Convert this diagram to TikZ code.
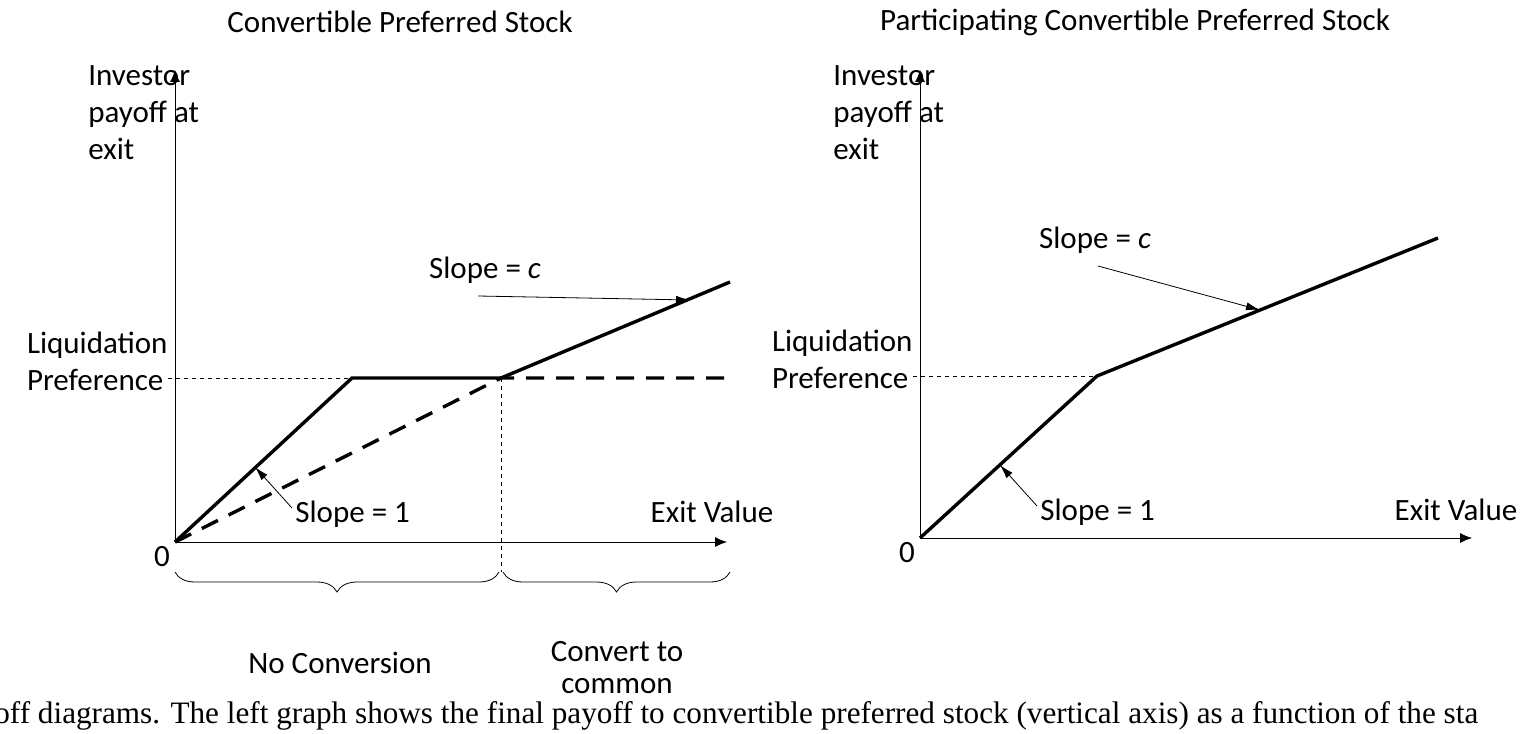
\documentclass[tikz,border=0pt]{standalone}
\usepackage{fontspec}
\setmainfont{Carlito}
\newfontfamily\capfont{Liberation Serif}
\usetikzlibrary{decorations.pathreplacing,arrows.meta}
\begin{document}
\begin{tikzpicture}[x=0.5pt,y=-0.5pt,
  lbl/.style={font=\fontsize{15.5}{18.5}\selectfont, inner sep=0pt},
  axis/.style={thin,-{Latex[length=6pt,width=5pt]}},
  curve/.style={line width=1.7pt},
  dcurve/.style={line width=1.7pt,dash pattern=on 9pt off 6pt},
  guide/.style={very thin,dash pattern=on 2pt off 2pt},
  pointer/.style={thin,-{Latex[length=7pt,width=4pt]}},
  brc/.style={thin,decorate,decoration={brace,mirror,amplitude=10pt}}]
\useasboundingbox (0,0) rectangle (1534,733);
% ---------- left graph ----------
\node[lbl] (t1) at (400,22) {Convertible Preferred Stock};
\coordinate (o1) at (175,542);
\coordinate (ytop1) at (175,70);
\coordinate (xend1) at (727,542);
\draw[axis] (o1) -- (ytop1);
\draw[axis] (o1) -- (xend1);
\node[lbl,align=left,anchor=north west] (yl1) at (88,65) {Investor\\payoff at\\exit};
\node[lbl,align=left,anchor=east] (lp1) at (168,361) {Liquidation\\Preference};
\node[lbl] (z1) at (162,557) {0};
\node[lbl] (ev1) at (712,512) {Exit Value};
\coordinate (k1) at (352,378);
\coordinate (c1) at (501,378);
\coordinate (e1) at (730,282);
\coordinate (d1) at (730,378);
\draw[guide] (168,378) -- (k1);
\draw[guide] (c1) -- (501,572);
\draw[curve,line join=miter] (o1) -- (k1) -- (c1) -- (e1);
\draw[dcurve] (o1) -- (c1) -- (d1);
\node[lbl,anchor=west] (s1) at (295,514) {Slope = 1};
\draw[pointer] (s1.west) ++(-3,-6) -- (255,467);
\node[lbl] (sc1) at (485,270) {Slope = \textit{c}};
\coordinate (sa1) at (478,296);
\draw[pointer] (sa1) -- (690,300);
\draw[brc] (175,572) -- (499,572);
\draw[brc] (503,572) -- (730,572);
\node[lbl] (nc) at (340,663) {No Conversion};
\node[lbl] (cc1) at (617,652) {Convert to};
\node[lbl] (cc2) at (617,686) {common};
% ---------- right graph ----------
\node[lbl] (t2) at (1135,22) {Participating Convertible Preferred Stock};
\coordinate (o2) at (920,538);
\coordinate (ytop2) at (920,70);
\coordinate (xend2) at (1472,538);
\draw[axis] (o2) -- (ytop2);
\draw[axis] (o2) -- (xend2);
\node[lbl,align=left,anchor=north west] (yl2) at (833,65) {Investor\\payoff at\\exit};
\node[lbl,align=left,anchor=east] (lp2) at (913,359) {Liquidation\\Preference};
\node[lbl] (z2) at (907,553) {0};
\node[lbl] (ev2) at (1456,510) {Exit Value};
\coordinate (k2) at (1097,376);
\coordinate (e2) at (1438,238);
\draw[guide] (913,376) -- (k2);
\draw[curve,line join=miter] (o2) -- (k2) -- (e2);
\node[lbl,anchor=west] (s2) at (1040,512) {Slope = 1};
\draw[pointer] (s2.west) ++(-3,-6) -- (1000,465);
\node[lbl] (sc2) at (1095,240) {Slope = \textit{c}};
\coordinate (sa2) at (1098,266);
\draw[pointer] (sa2) -- (1260,310);
% ---------- caption ----------
\node[anchor=west,inner sep=0pt,font=\capfont\fontsize{15.6}{18}\selectfont] (cap) at (-6,716)
 {off diagrams. The left graph shows the final payoff to convertible preferred stock (vertical axis) as a function of the sta};
\end{tikzpicture}
\end{document}
